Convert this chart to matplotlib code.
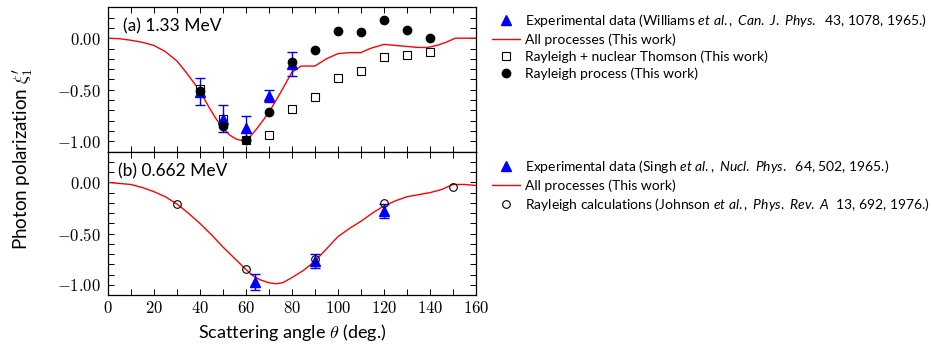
import matplotlib
matplotlib.use("Agg")
import matplotlib.pyplot as plt
from matplotlib.ticker import MultipleLocator, FuncFormatter

plt.rcParams['font.family'] = ['Lato', 'DejaVu Sans']
plt.rcParams['mathtext.fontset'] = 'custom'
plt.rcParams['mathtext.rm'] = 'Lato'
plt.rcParams['mathtext.it'] = 'Lato:italic'

# (a) 1.33 MeV
theory_a_x = [0, 5, 10, 15, 20, 25, 30, 34, 37, 40, 44, 47, 50, 53, 56, 60, 62, 65,
              70, 75, 80, 84, 90, 95, 100, 105, 110, 114, 120, 125, 130, 135, 139,
              143, 147, 151, 155, 160]
theory_a_y = [0.0, -0.005, -0.02, -0.04, -0.07, -0.13, -0.22, -0.33, -0.42, -0.51,
              -0.67, -0.78, -0.87, -0.94, -0.98, -1.0, -0.95, -0.87, -0.72, -0.53,
              -0.33, -0.27, -0.27, -0.2, -0.15, -0.14, -0.14, -0.1, -0.06, -0.07,
              -0.08, -0.09, -0.09, -0.07, -0.04, 0.0, 0.0, 0.0]
exp_a_x = [40, 50, 60, 70, 80]
exp_a_y = [-0.52, -0.78, -0.87, -0.56, -0.25]
exp_a_err = [0.13, 0.13, 0.12, 0.06, 0.12]
rnt_x = [40, 50, 60, 70, 80, 90, 100, 110, 120, 130, 140]
rnt_y = [-0.49, -0.78, -0.99, -0.94, -0.69, -0.57, -0.39, -0.32, -0.18, -0.16, -0.13]
ray_x = [40, 50, 60, 70, 80, 90, 100, 110, 120, 130, 140]
ray_y = [-0.51, -0.85, -0.99, -0.72, -0.23, -0.11, 0.07, 0.06, 0.18, 0.08, 0.0]

# (b) 0.662 MeV
theory_b_x = [0, 5, 10, 15, 20, 25, 30, 35, 40, 45, 50, 55, 60, 63, 66, 70, 73, 76,
              80, 85, 90, 95, 100, 105, 110, 115, 120, 125, 130, 135, 140, 145, 150, 155, 160]
theory_b_y = [0.0, -0.01, -0.02, -0.05, -0.09, -0.14, -0.21, -0.3, -0.4, -0.51,
              -0.63, -0.74, -0.85, -0.91, -0.95, -0.98, -0.99, -0.98, -0.93, -0.86,
              -0.77, -0.65, -0.53, -0.45, -0.38, -0.3, -0.23, -0.18, -0.14, -0.12,
              -0.1, -0.07, -0.02, -0.02, -0.03]
exp_b_x = [64, 90, 120]
exp_b_y = [-0.97, -0.77, -0.28]
exp_b_err = [0.08, 0.07, 0.065]
john_x = [30, 60, 90, 120, 150]
john_y = [-0.21, -0.85, -0.745, -0.2, -0.045]

fig = plt.figure(figsize=(9.32, 3.44), dpi=100)
ax1 = fig.add_axes([0.1157, 0.559, 0.3950, 0.420])
ax2 = fig.add_axes([0.1157, 0.1424, 0.3950, 0.4166])

blue = '#0000ff'
for ax in (ax1, ax2):
    ax.set_xlim(0, 160)
    ax.set_ylim(-1.1, 0.3)
    ax.xaxis.set_major_locator(MultipleLocator(20))
    ax.xaxis.set_minor_locator(MultipleLocator(10))
    ax.yaxis.set_major_locator(MultipleLocator(0.5))
    ax.yaxis.set_minor_locator(MultipleLocator(0.1))
    ax.tick_params(which='both', direction='in', top=True, right=True, length=4, width=0.7)
    ax.tick_params(axis='y', pad=5)
    ax.yaxis.set_major_formatter(FuncFormatter(lambda v, p: r'$%.2f$' % v))
    ax.xaxis.set_major_formatter(FuncFormatter(lambda v, p: r'$%d$' % v))
    for s in ax.spines.values():
        s.set_linewidth(0.9)

ax1.tick_params(axis='x', labelbottom=False)

# top panel
l_a, = ax1.plot(theory_a_x, theory_a_y, color='red', lw=1.0, zorder=2)
sq, = ax1.plot(rnt_x, rnt_y, 's', ms=5.5, mfc='white', mec='black', mew=0.8, ls='none', zorder=3)
e_a = ax1.errorbar(exp_a_x, exp_a_y, yerr=exp_a_err, fmt='^', color=blue, ms=7,
                   capsize=3.5, elinewidth=1.0, capthick=1.0, zorder=4)
ci, = ax1.plot(ray_x, ray_y, 'o', ms=6, color='black', ls='none', zorder=5)
ax1.text(6.5, 0.11, '(a) 1.33 MeV', fontsize=12.5, va='center')

# bottom panel
l_b, = ax2.plot(theory_b_x, theory_b_y, color='red', lw=1.0, zorder=2)
e_b = ax2.errorbar(exp_b_x, exp_b_y, yerr=exp_b_err, fmt='^', color=blue, ms=7,
                   capsize=3.5, elinewidth=1.0, capthick=1.0, zorder=3)
jo, = ax2.plot(john_x, john_y, 'o', ms=5.5, mfc='none', mec='black', mew=0.8, ls='none', zorder=4)
ax2.text(4.5, 0.11, '(b) 0.662 MeV', fontsize=12.5, va='center')

for ax in (ax1, ax2):
    for t in ax.get_xticklabels() + ax.get_yticklabels():
        t.set_math_fontfamily('cm')
        t.set_fontsize(12)

tri_h, = ax1.plot([], [], '^', color=blue, ms=7, ls='none')
leg_kw = dict(loc='upper left', frameon=False, fontsize=10, handlelength=2.0,
              handletextpad=0.4, labelspacing=0.32, borderpad=0, borderaxespad=0)
fig.legend([tri_h, l_a, sq, ci],
           [r'Experimental data (Williams $\mathit{et\ al.,\ Can.\ J.\ Phys.}$  43, 1078, 1965.)',
            'All processes (This work)',
            'Rayleigh + nuclear Thomson (This work)',
            'Rayleigh process (This work)'],
           bbox_to_anchor=(0.528, 0.965), **leg_kw)
fig.legend([tri_h, l_b, jo],
           [r'Experimental data (Singh $\mathit{et\ al.,\ Nucl.\ Phys.}$  64, 502, 1965.)',
            'All processes (This work)',
            r'Rayleigh calculations (Johnson $\mathit{et\ al.,\ Phys.\ Rev.\ A}$  13, 692, 1976.)'],
           bbox_to_anchor=(0.528, 0.542), **leg_kw)

fig.text(0.024, 0.539, r"Photon polarization $\xi_1'$", rotation=90, va='center', ha='center',
         fontsize=13.5, math_fontfamily='cm')
fig.text(0.313, 0.032, r'Scattering angle $\theta$ (deg.)', ha='center', va='center',
         fontsize=13, math_fontfamily='cm')

fig.savefig('out.png', dpi=100)
